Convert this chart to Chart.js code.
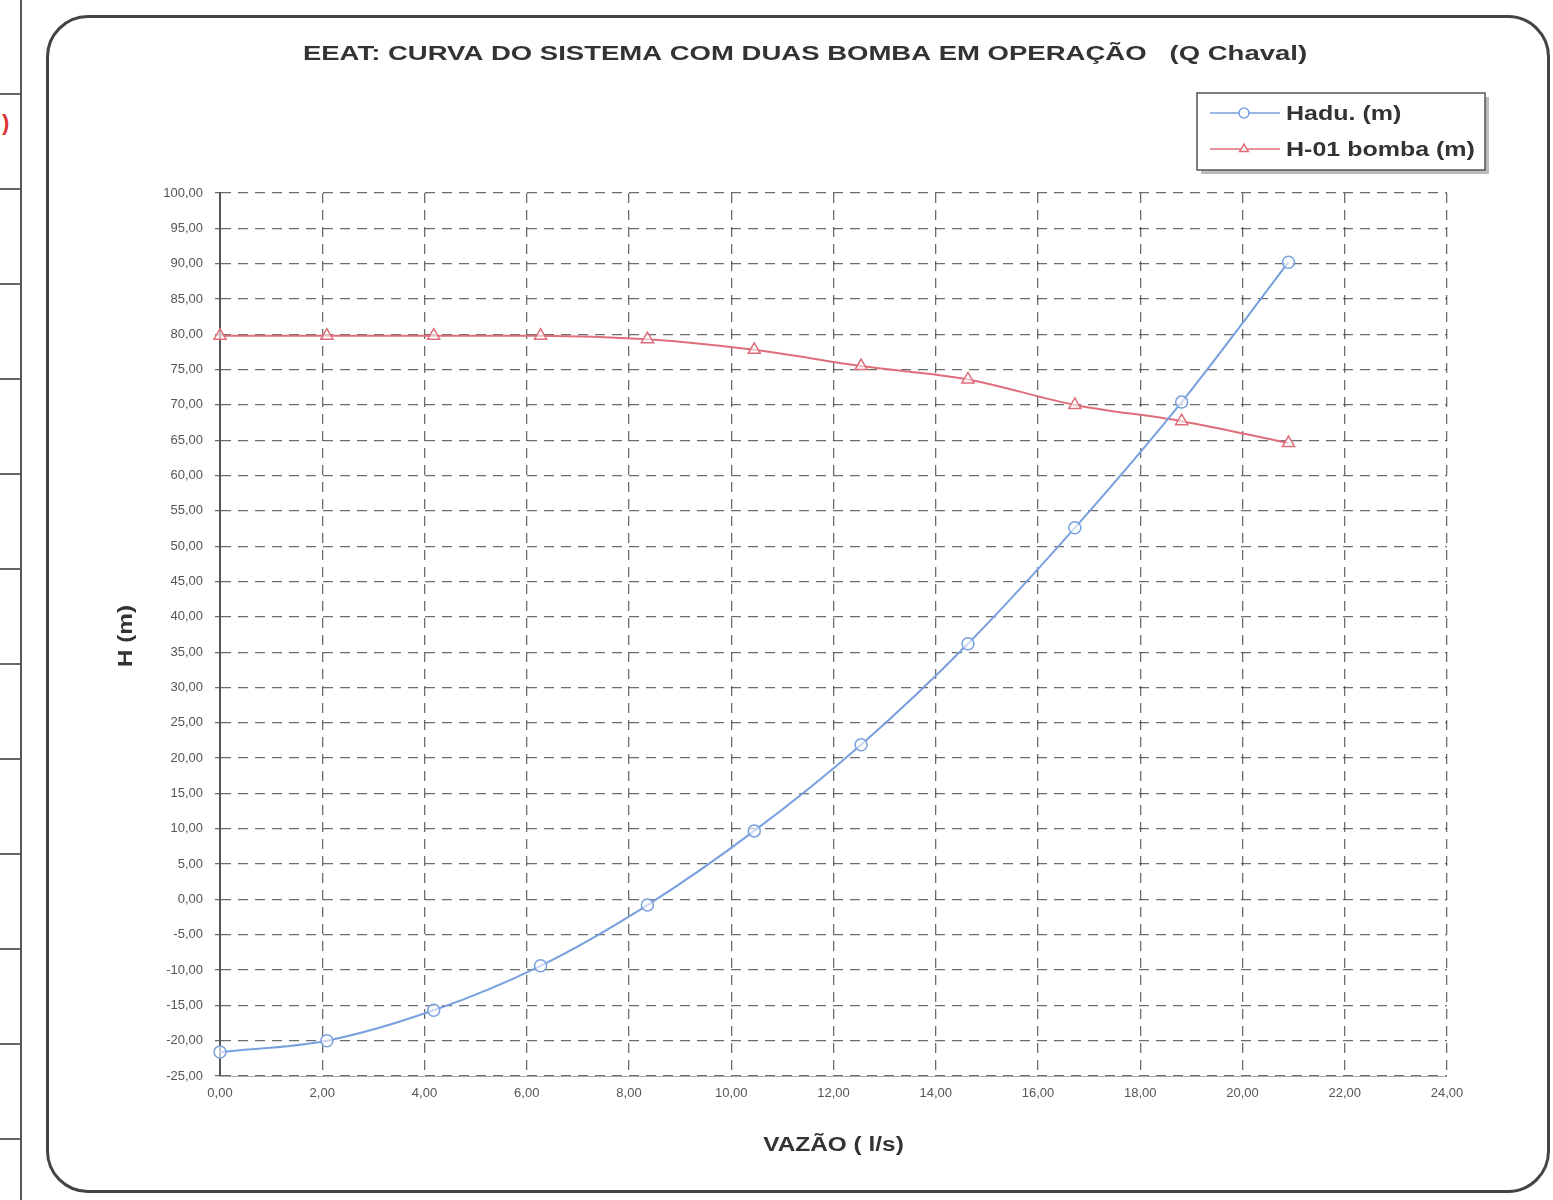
<!DOCTYPE html>
<html>
<head>
<meta charset="utf-8">
<script src="https://cdn.jsdelivr.net/npm/chart.js@4/dist/chart.umd.min.js"></script>
<style>
  html, body { margin: 0; padding: 0; background: #fff; }
  #wrap { position: relative; width: 1553px; height: 1200px; overflow: hidden; }
  #frame { position: absolute; left: 46px; top: 15px; width: 1504px; height: 1178px;
           border: 3px solid #444; border-radius: 42px; box-sizing: border-box; }
  #side { position: absolute; left: 0; top: 0; width: 20px; height: 1200px;
          border-right: 2px solid #555;
          background: repeating-linear-gradient(to bottom, transparent 0, transparent 93px, #666 93px, #666 95px); }
  #side span { position: absolute; left: 2px; top: 110px; color: #d33; font: bold 22px "Liberation Sans", Arial, sans-serif; background: #fff; }
  canvas { position: absolute; left: 0; top: 0; }
</style>
</head>
<body>
<div id="wrap">
  <div id="side"><span>)</span></div>
  <div id="frame"></div>
  <canvas id="chart" width="1553" height="1200"></canvas>
</div>
<script>
// Vazão (l/s) nos pontos calculados
const vazao = [0, 2.09, 4.18, 6.27, 8.36, 10.45, 12.54, 14.63, 16.72, 18.81, 20.9];
// Curva do sistema - Hadu (m)
const hadu = [-21.6, -20.0, -15.7, -9.4, -0.8, 9.7, 21.9, 36.2, 52.6, 70.4, 90.2];
// Curva da bomba - H-01 (m)
const bomba = [79.8, 79.8, 79.8, 79.8, 79.3, 77.8, 75.5, 73.6, 70.0, 67.7, 64.6];

const titulo = 'EEAT: CURVA DO SISTEMA COM DUAS BOMBA EM OPERAÇÃO   (Q Chaval)';
const tituloX = 'VAZÃO ( l/s)';
const tituloY = 'H (m)';
const legendaHadu = 'Hadu. (m)';
const legendaBomba = 'H-01 bomba (m)';

const AZUL = 'rgb(120,160,222)';
const VERMELHO = 'rgb(222,110,122)';
const FONTE = '"Liberation Sans", Arial, sans-serif';

function fmt(v) { return Number(v).toFixed(2).replace('.', ','); }
function pares(xs, ys) { return xs.map((x, i) => ({ x: x, y: ys[i] })); }

// texto "largo": a fonte do original é bem mais expandida que Arial
function textoLargo(c, txt, x, y, px, sx, align, rot) {
  c.save();
  c.translate(x, y);
  if (rot) c.rotate(rot);
  c.scale(sx, 1);
  c.font = 'bold ' + px + 'px ' + FONTE;
  c.textAlign = align;
  c.textBaseline = 'middle';
  c.fillText(txt, 0, 0);
  c.restore();
}

// títulos e legenda desenhados à mão, como no original
const extras = {
  id: 'extras',
  afterDraw(chart) {
    const c = chart.ctx;
    const a = chart.chartArea;
    c.save();
    c.fillStyle = '#333';
    textoLargo(c, titulo, 805, 54, 21, 1.31, 'center');
    textoLargo(c, tituloX, (a.left + a.right) / 2, 1145, 20, 1.22, 'center');
    textoLargo(c, tituloY, 126, 636, 20, 1.22, 'center', -Math.PI / 2);

    // caixa da legenda
    c.fillStyle = '#bbb';
    c.fillRect(1201, 97, 288, 77);
    c.fillStyle = '#fff';
    c.fillRect(1197, 93, 288, 77);
    c.strokeStyle = '#555';
    c.lineWidth = 1.5;
    c.strokeRect(1197, 93, 288, 77);

    const itens = [
      { ds: chart.data.datasets[0], y: 113, txt: legendaHadu },
      { ds: chart.data.datasets[1], y: 149, txt: legendaBomba }
    ];
    itens.forEach(it => {
      c.strokeStyle = it.ds.borderColor;
      c.lineWidth = 1.5;
      c.beginPath(); c.moveTo(1210, it.y); c.lineTo(1280, it.y); c.stroke();
      c.fillStyle = '#fff';
      Chart.helpers.drawPoint(c, {
        pointStyle: it.ds.pointStyle, radius: 5, borderWidth: 1.5, rotation: 0
      }, 1244, it.y);
      c.fillStyle = '#333';
      textoLargo(c, it.txt, 1286, it.y + 1, 20, 1.25, 'left');
    });
    c.restore();
  }
};

new Chart(document.getElementById('chart'), {
  type: 'line',
  data: {
    datasets: [
      {
        label: legendaHadu,
        data: pares(vazao, hadu),
        borderColor: AZUL,
        backgroundColor: '#fff',
        borderWidth: 2,
        pointStyle: 'circle',
        pointRadius: 6,
        pointBorderWidth: 1.5,
        pointBorderColor: AZUL,
        pointBackgroundColor: 'rgba(255,255,255,0.6)',
        tension: 0.4,
        cubicInterpolationMode: 'monotone',
        clip: false
      },
      {
        label: legendaBomba,
        data: pares(vazao, bomba),
        borderColor: VERMELHO,
        backgroundColor: '#fff',
        borderWidth: 2,
        pointStyle: 'triangle',
        pointRadius: 7,
        pointBorderWidth: 1.5,
        pointBorderColor: VERMELHO,
        pointBackgroundColor: 'rgba(255,255,255,0.6)',
        tension: 0.4,
        cubicInterpolationMode: 'monotone',
        clip: false
      }
    ]
  },
  options: {
    responsive: false,
    animation: false,
    layout: { padding: { left: 95, right: 106, top: 193, bottom: 60 } },
    plugins: {
      legend: { display: false },
      title: { display: false },
      tooltip: { enabled: false }
    },
    scales: {
      x: {
        type: 'linear', min: 0, max: 24,
        afterFit: s => { s.height = 64; },
        ticks: { stepSize: 2, callback: v => fmt(v), color: '#555', padding: 10,
                 font: { family: '"Liberation Sans Narrow", "Liberation Sans", Arial', size: 13 } },
        grid: { color: 'rgba(60,60,60,0.75)', lineWidth: 1.3, drawTicks: false },
        border: { display: true, color: '#aaa', dash: [10, 7] }
      },
      y: {
        min: -25, max: 100,
        afterFit: s => { s.width = 125; },
        ticks: { stepSize: 5, callback: v => fmt(v), color: '#555', padding: 12,
                 font: { family: '"Liberation Sans Narrow", "Liberation Sans", Arial', size: 13 } },
        grid: { color: 'rgba(60,60,60,0.75)', lineWidth: 1.3, tickLength: 5 },
        border: { display: true, color: '#555', width: 2, dash: [10, 7] }
      }
    }
  },
  plugins: [extras]
});
</script>
</body>
</html>
